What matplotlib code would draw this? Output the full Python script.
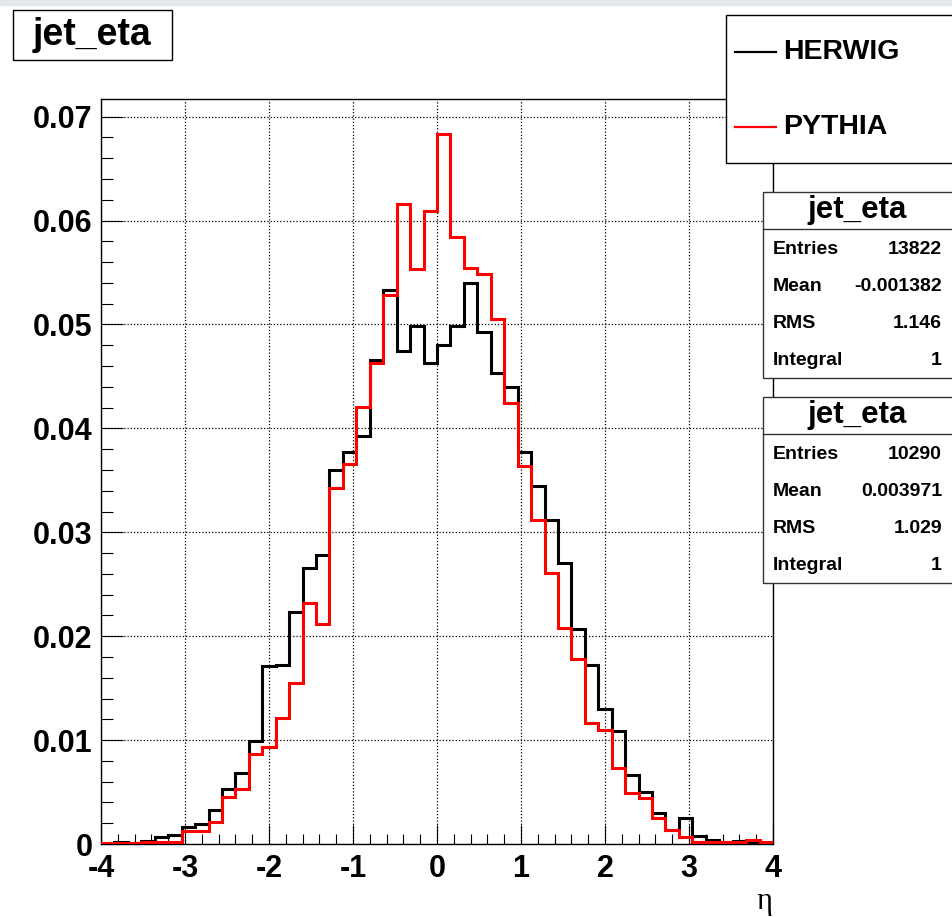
import numpy as np
import matplotlib
matplotlib.use("Agg")
import matplotlib.pyplot as plt
from matplotlib.patches import Rectangle
from matplotlib.lines import Line2D
from matplotlib.ticker import MultipleLocator, FuncFormatter

plt.rcParams['axes.unicode_minus'] = False
plt.rcParams['font.family'] = ['Liberation Sans', 'DejaVu Sans']

# jet eta, 50 bins from -4 to 4, normalised to unit integral
eta_lo, eta_hi, n_bins = -4.0, 4.0, 50

herwig = [0.00000, 0.00016, 0.00010, 0.00030, 0.00064, 0.00087, 0.00160, 0.00190, 0.00330, 0.00530,
          0.00680, 0.00990, 0.01710, 0.01720, 0.02230, 0.02660, 0.02780, 0.03600, 0.03770, 0.03930,
          0.04660, 0.05330, 0.04740, 0.04990, 0.04630, 0.04800, 0.04990, 0.05400, 0.04930, 0.04530,
          0.04400, 0.03770, 0.03450, 0.03120, 0.02700, 0.02070, 0.01720, 0.01300, 0.01090, 0.00660,
          0.00500, 0.00300, 0.00135, 0.00250, 0.00077, 0.00040, 0.00020, 0.00025, 0.00020, 0.00005]

pythia = [0.00010, 0.00010, 0.00010, 0.00020, 0.00020, 0.00020, 0.00125, 0.00125, 0.00210, 0.00450,
          0.00530, 0.00870, 0.00930, 0.01210, 0.01550, 0.02320, 0.02120, 0.03430, 0.03660, 0.04210,
          0.04630, 0.05280, 0.06160, 0.05530, 0.06090, 0.06830, 0.05840, 0.05540, 0.05490, 0.05050,
          0.04240, 0.03640, 0.03120, 0.02610, 0.02080, 0.01780, 0.01160, 0.01100, 0.00730, 0.00490,
          0.00440, 0.00250, 0.00135, 0.00070, 0.00020, 0.00020, 0.00020, 0.00020, 0.00040, 0.00020]

labels = ["HERWIG", "PYTHIA"]
colors = ["black", "#ff0000"]
stats_rows = ["Entries", "Mean", "RMS", "Integral"]
stats_herwig = ["13822", "-0.001382", "1.146", "1"]
stats_pythia = ["10290", "0.003971", "1.029", "1"]

W, H = 952, 917
fig = plt.figure(figsize=(W / 100, H / 100), dpi=100)


def fx(px):
    return px / W


def fy(py):
    return 1 - py / H


# thin grey strip along the top of the canvas
fig.patches.append(Rectangle((0, fy(5)), 1, 5 / H, transform=fig.transFigure,
                             color="#e4e7ea", zorder=0))

ax = fig.add_axes([fx(101), fy(844), 672 / W, 745 / H])
edges = np.linspace(eta_lo, eta_hi, n_bins + 1)
for vals, c in zip([herwig, pythia], colors):
    ax.stairs(vals, edges, baseline=0, color=c, lw=2.2, zorder=3)

ax.set_xlim(eta_lo, eta_hi)
ax.set_ylim(0, 0.0717)
ax.xaxis.set_major_locator(MultipleLocator(1))
ax.xaxis.set_minor_locator(MultipleLocator(0.2))
ax.yaxis.set_major_locator(MultipleLocator(0.01))
ax.yaxis.set_minor_locator(MultipleLocator(0.002))
ax.yaxis.set_major_formatter(FuncFormatter(lambda v, p: "0" if abs(v) < 1e-9 else f"{v:.2f}"))
ax.xaxis.set_major_formatter(FuncFormatter(lambda v, p: f"{v:.0f}"))

ax.tick_params(axis="both", which="both", direction="in", width=0.8,
               top=False, right=False, labelsize=22)
ax.tick_params(axis="x", which="major", length=14, pad=7.5)
ax.tick_params(axis="x", which="minor", length=7)
ax.tick_params(axis="y", which="major", length=16, pad=6)
ax.tick_params(axis="y", which="minor", length=8.5)
for lab in ax.get_xticklabels() + ax.get_yticklabels():
    lab.set_fontweight("bold")
for s in ax.spines.values():
    s.set_linewidth(1.0)

ax.grid(True, which="major", color="black", lw=0.9, ls=(0, (1, 1.6)), zorder=1)
ax.set_axisbelow(True)

fig.text(fx(772), fy(902), "\u03b7", ha="right", va="center", fontsize=22,
         family="Liberation Serif")

# histogram title box
fig.patches.append(Rectangle((fx(13), fy(60)), fx(172) - fx(13), 50 / H,
                             transform=fig.transFigure, fill=True, fc="white",
                             ec="black", lw=1.0, zorder=5))
fig.text(fx(92), fy(35), "jet_eta", ha="center", va="center", fontsize=27,
         fontweight="bold", zorder=6)

# legend box
fig.patches.append(Rectangle((fx(726), fy(163)), fx(960) - fx(726), 148 / H,
                             transform=fig.transFigure, fc="white", ec="black",
                             lw=1.0, zorder=5))
for lab, c, yy in zip(labels, colors, [52, 127]):
    fig.lines.append(Line2D([fx(735), fx(776)], [fy(yy), fy(yy)], color=c, lw=1.6,
                            transform=fig.transFigure, zorder=6))
    fig.text(fx(783), fy(yy), lab, ha="left", va="center", fontsize=20.5,
             fontweight="bold", zorder=6)


def stats_box(top, vals):
    fig.patches.append(Rectangle((fx(763), fy(top + 186)), fx(960) - fx(763), 186 / H,
                                 transform=fig.transFigure, fc="white", ec="#333333",
                                 lw=1.0, zorder=5))
    fig.lines.append(Line2D([fx(763), fx(960)], [fy(top + 37), fy(top + 37)], color="#333333",
                            lw=1.0, transform=fig.transFigure, zorder=6))
    fig.text(fx(857), fy(top + 18), "jet_eta", ha="center", va="center", fontsize=22.5,
             fontweight="bold", zorder=6)
    for i, (name, v) in enumerate(zip(stats_rows, vals)):
        yy = top + 57 + i * 37.3
        fig.text(fx(773), fy(yy), name, ha="left", va="center", fontsize=14,
                 fontweight="bold", zorder=6)
        fig.text(fx(942), fy(yy), v, ha="right", va="center", fontsize=14,
                 fontweight="bold", zorder=6)


stats_box(192, stats_herwig)
stats_box(397, stats_pythia)

fig.savefig("out.png", dpi=100)
